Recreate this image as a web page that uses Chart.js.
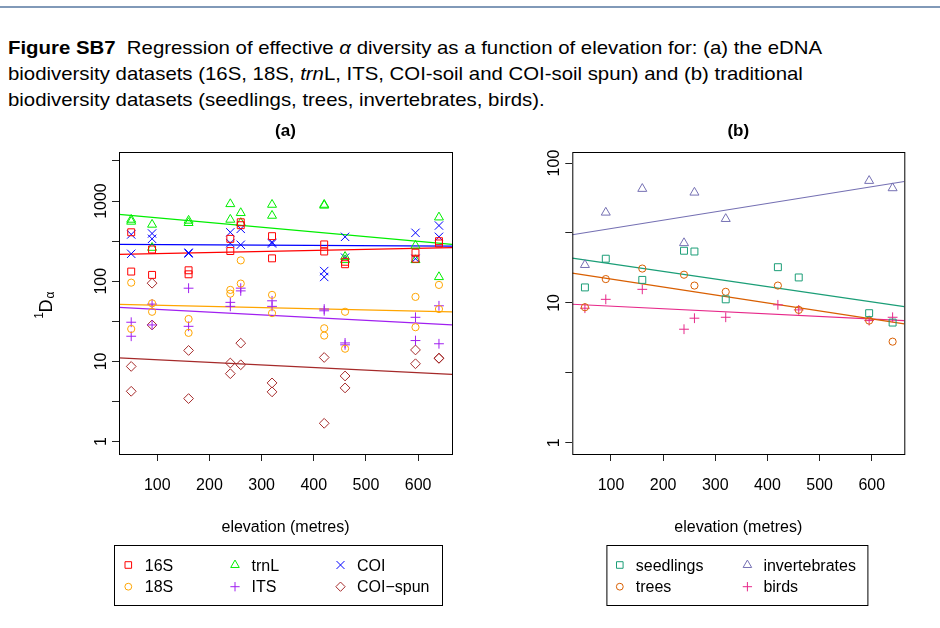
<!DOCTYPE html>
<html>
<head>
<meta charset="utf-8">
<script src="https://cdn.jsdelivr.net/npm/chart.js@4.4.1/dist/chart.umd.min.js"></script>
<style>
  body { margin: 0; background: #fff; width: 940px; height: 628px; overflow: hidden; position: relative;
         font-family: "Liberation Sans", Arial, sans-serif; }
  #rule { position: absolute; left: 0; top: 6px; width: 940px; height: 2px; background: #8199b8; }
  #caption { position: absolute; left: 8px; top: 34.6px; font-size: 18.6px; line-height: 26px; color: #000; }
  #caption div { white-space: nowrap; transform-origin: 0 0; }
  .panel { position: absolute; top: 110px; }
</style>
</head>
<body>
<div id="rule"></div>
<div id="caption">
  <div><b>Figure SB7</b>&nbsp; Regression of effective <i>α</i> diversity as a function of elevation for: (a) the eDNA</div>
  <div>biodiversity datasets (16S, 18S, <i>trn</i>L, ITS, COI-soil and COI-soil spun) and (b) traditional</div>
  <div>biodiversity datasets (seedlings, trees, invertebrates, birds).</div>
</div>
<canvas id="chartA" class="panel" width="470" height="518" style="left:0"></canvas>
<canvas id="chartB" class="panel" width="470" height="518" style="left:470px"></canvas>
<script>
// elevation of the sampling sites (metres)
const sites = [50, 90, 160, 240, 260, 320, 420, 460, 595, 640];

// (a) eDNA datasets, two replicates per site
const v16S  = [[408,132],[249,120],[137,122],[338,238],[544,500],[365,193],[288,235],[175,163],[227,191],[316,296]];
const v18S  = [[96,25.4],[53,41.6],[33.8,22.7],[78,70],[182,93.5],[67.6,40],[25.9,21],[41.6,14.4],[63.8,26.7],[90,45]];
const vTrnL = [[587,555],[509,262],[571,534],[919,587],[711,534],[902,658],[902,880],[202,184],[279,184],[627,113]];
const vITS  = [[30.8,20.6],[51.9,28.5],[81.9,27.4],[54.5,48.6],[82,75.8],[57,48.6],[45,42.8],[17,16.1],[35.5,18.2],[49.4,16.6]];
const vCOI  = [[383,220],[394,338],[227,222],[408,299],[450,285],[307,296],[134,113],[358,197],[402,191],[495,358]];
const vSpun = [[8.66,4.24],[94.5,28.5],[13.7,3.44],[9.55,7.03],[16.9,9.08],[5.39,4.17],[11.2,1.69],[6.58,4.67],[13.9,9.35],[11.0,10.9]];

// regression lines (a): value at left and right edge of the plot
const fit16S  = [216, 262];
const fit18S  = [51.4, 41.6];
const fitTrnL = [684, 288];
const fitITS  = [47.2, 28.5];
const fitCOI  = [288, 274];
const fitSpun = [11.1, 6.89];

// (b) traditional datasets
const seedlings = [12.9, 20.7, 14.6, 23.6, 23.3, 10.6, 18.0, 15.2, 8.44, 7.23];
const trees     = [9.31, 14.8, 17.6, 15.9, 13.3, 12.0, 13.3, 8.91, 7.47, 5.28];
const inverts   = [18.7, 44.3, 65.5, 26.8, 61.6, 39.9, null, null, 74.7, 66.2];
const birds     = [9.16, 10.6, 12.5, 6.48, 7.77, 7.89, 9.68, 8.91, 7.47, 7.89];

const fitSeedlings = [20.9, 9.4];
const fitTrees     = [16.3, 7.07];
const fitInverts   = [30.7, 73.8];
const fitBirds     = [9.78, 7.47];

const xTicks = [100, 200, 300, 400, 500, 600];
const FONT = '"Liberation Sans", Arial, sans-serif';

// fit caption width to the reference
(function () {
  const lines = document.querySelectorAll('#caption div');
  const w = lines[0].getBoundingClientRect().width;
  const k = 814 / w;
  lines.forEach(l => l.style.transform = 'scaleX(' + k + ')');
})();

const styles = {
  '16S':   { color: '#FF0000', pointStyle: 'rect', r: 4.9 },
  '18S':   { color: '#FFA500', pointStyle: 'circle', r: 3.6 },
  'trnL':  { color: '#00EE00', pointStyle: 'triangle', r: 5.2 },
  'ITS':   { color: '#A020F0', pointStyle: 'cross', r: 4.9 },
  'COI':   { color: '#0000FF', pointStyle: 'crossRot', r: 5.9 },
  'COI\u2212spun': { color: '#A52A2A', pointStyle: 'rectRot', r: 4.9 },
  'seedlings':     { color: '#1B9E77', pointStyle: 'rect', r: 4.9 },
  'trees':         { color: '#D95F02', pointStyle: 'circle', r: 3.6 },
  'invertebrates': { color: '#7570B3', pointStyle: 'triangle', r: 5.2 },
  'birds':         { color: '#E7298A', pointStyle: 'cross', r: 4.9 }
};

function points(vals) {
  const out = [];
  vals.forEach((v, i) => {
    const reps = Array.isArray(v) ? v : [v];
    reps.forEach(y => { if (y != null) out.push({ x: sites[i], y: y }); });
  });
  return out;
}

function scatterSet(name, vals) {
  const s = styles[name];
  return {
    label: name, data: points(vals), showLine: false,
    borderColor: s.color, backgroundColor: 'rgba(0,0,0,0)',
    pointStyle: s.pointStyle, pointRadius: s.r, pointHoverRadius: s.r, pointBorderWidth: 1
  };
}

function fitSet(name, fit, xMin, xMax) {
  return {
    label: name + ' fit', data: [{ x: xMin, y: fit[0] }, { x: xMax, y: fit[1] }],
    showLine: true, borderColor: styles[name].color, borderWidth: 1.2, pointRadius: 0, pointHoverRadius: 0
  };
}

function decor(o) {
  return {
    id: 'decor',
    afterDraw(chart) {
      const { ctx, chartArea: a, scales } = chart;
      const cx = (a.left + a.right) / 2;
      ctx.save();
      ctx.strokeStyle = '#000';
      ctx.lineWidth = 1;
      ctx.strokeRect(a.left + 0.5, a.top + 0.5, a.right - a.left, a.bottom - a.top);

      ctx.fillStyle = '#000';
      ctx.textAlign = 'center';
      ctx.font = 'bold 17px ' + FONT;
      ctx.fillText(o.title, cx, 26);

      ctx.font = '16px ' + FONT;
      ctx.fillText('elevation (metres)', cx, 421.5);

      // y tick labels, rotated as in R
      o.yLabels.forEach(v => {
        const y = scales.y.getPixelForValue(v);
        ctx.save();
        ctx.translate(a.left - 13, y);
        ctx.rotate(-Math.PI / 2);
        ctx.textAlign = 'center';
        ctx.textBaseline = 'alphabetic';
        ctx.fillText(String(v), 0, 0);
        ctx.restore();
      });

      // y axis title  1D_alpha
      if (o.yTitle) {
        ctx.save();
        ctx.translate(45, (a.top + a.bottom) / 2);
        ctx.rotate(-Math.PI / 2);
        ctx.textBaseline = 'alphabetic';
        ctx.textAlign = 'center';
        ctx.font = '18px ' + FONT;
        ctx.fillText('D', -3, 6.5);
        ctx.font = '12px ' + FONT;
        ctx.textAlign = 'right';
        ctx.fillText('1', -9, -2.5);
        ctx.textAlign = 'left';
        ctx.fillText('\u03B1', 4.5, 9);
        ctx.restore();
      }

      // legend box
      const L = o.legend;
      ctx.strokeRect(L.x + 0.5, L.y + 0.5, L.w, L.h);
      ctx.font = '16px ' + FONT;
      ctx.textAlign = 'left';
      L.items.forEach((name, i) => {
        const col = Math.floor(i / 2), row = i % 2;
        const mx = L.colX[col], my = L.rowY[row];
        const s = styles[name];
        ctx.strokeStyle = s.color;
        ctx.fillStyle = 'rgba(0,0,0,0)';
        ctx.lineWidth = 1;
        Chart.helpers.drawPoint(ctx, { pointStyle: s.pointStyle, radius: s.r * 0.95, rotation: 0, borderWidth: 1 }, mx, my);
        ctx.fillStyle = '#000';
        ctx.fillText(name, mx + L.textDx, my + 5.7);
      });
      ctx.restore();
    }
  };
}

function makePanel(id, datasets, o) {
  return new Chart(document.getElementById(id), {
    type: 'scatter',
    data: { datasets: datasets },
    options: {
      responsive: false,
      animation: false,
      devicePixelRatio: 1,
      layout: { padding: { top: 42, right: o.padRight, left: 0, bottom: 0 } },
      plugins: { legend: { display: false }, tooltip: { enabled: false }, title: { display: false } },
      scales: {
        x: {
          type: 'linear', min: o.xMin, max: o.xMax,
          afterBuildTicks: s => { s.ticks = xTicks.map(v => ({ value: v })); },
          afterFit: s => { s.height = 174; },
          border: { display: false },
          grid: { drawOnChartArea: false, drawTicks: true, tickLength: 7, color: '#222', lineWidth: 1 },
          ticks: { color: '#000', font: { size: 16, family: FONT }, padding: 15, maxRotation: 0, autoSkip: false }
        },
        y: {
          type: 'logarithmic', min: o.yMin, max: o.yMax,
          afterBuildTicks: s => { s.ticks = o.yTicks.map(v => ({ value: v })); },
          afterFit: s => { s.width = o.yWidth; },
          border: { display: false },
          grid: { drawOnChartArea: false, drawTicks: true, tickLength: 7, color: '#222', lineWidth: 1 },
          ticks: { display: false }
        }
      }
    },
    plugins: [decor(o)]
  });
}

const aX = [26.6, 665];
makePanel('chartA', [
  scatterSet('16S', v16S), scatterSet('18S', v18S), scatterSet('trnL', vTrnL),
  scatterSet('ITS', vITS), scatterSet('COI', vCOI), scatterSet('COI\u2212spun', vSpun),
  fitSet('16S', fit16S, aX[0], aX[1]), fitSet('18S', fit18S, aX[0], aX[1]),
  fitSet('trnL', fitTrnL, aX[0], aX[1]), fitSet('ITS', fitITS, aX[0], aX[1]),
  fitSet('COI', fitCOI, aX[0], aX[1]), fitSet('COI\u2212spun', fitSpun, aX[0], aX[1])
], {
  title: '(a)', xMin: aX[0], xMax: aX[1], yMin: 0.736, yMax: 4093,
  yTicks: [1, 3.162, 10, 31.62, 100, 316.2, 1000, 3162], yLabels: [1, 10, 100, 1000],
  yWidth: 119, padRight: 18, yTitle: true,
  legend: { x: 114, y: 435, w: 328, h: 60, colX: [128.3, 235, 340.5], rowY: [455, 476.7], textDx: 16.5,
            items: ['16S', '18S', 'trnL', 'ITS', 'COI', 'COI\u2212spun'] }
});

const bX = [25.8, 662.4];
makePanel('chartB', [
  scatterSet('seedlings', seedlings), scatterSet('trees', trees),
  scatterSet('invertebrates', inverts), scatterSet('birds', birds),
  fitSet('seedlings', fitSeedlings, bX[0], bX[1]), fitSet('trees', fitTrees, bX[0], bX[1]),
  fitSet('invertebrates', fitInverts, bX[0], bX[1]), fitSet('birds', fitBirds, bX[0], bX[1])
], {
  title: '(b)', xMin: bX[0], xMax: bX[1], yMin: 0.83, yMax: 120,
  yTicks: [1, 3.162, 10, 31.62, 100], yLabels: [1, 10, 100],
  yWidth: 102.3, padRight: 35.7, yTitle: false,
  legend: { x: 136.4, y: 435, w: 261, h: 60, colX: [149.8, 277.4], rowY: [455, 476.7], textDx: 16,
            items: ['seedlings', 'trees', 'invertebrates', 'birds'] }
});
</script>
</body>
</html>
